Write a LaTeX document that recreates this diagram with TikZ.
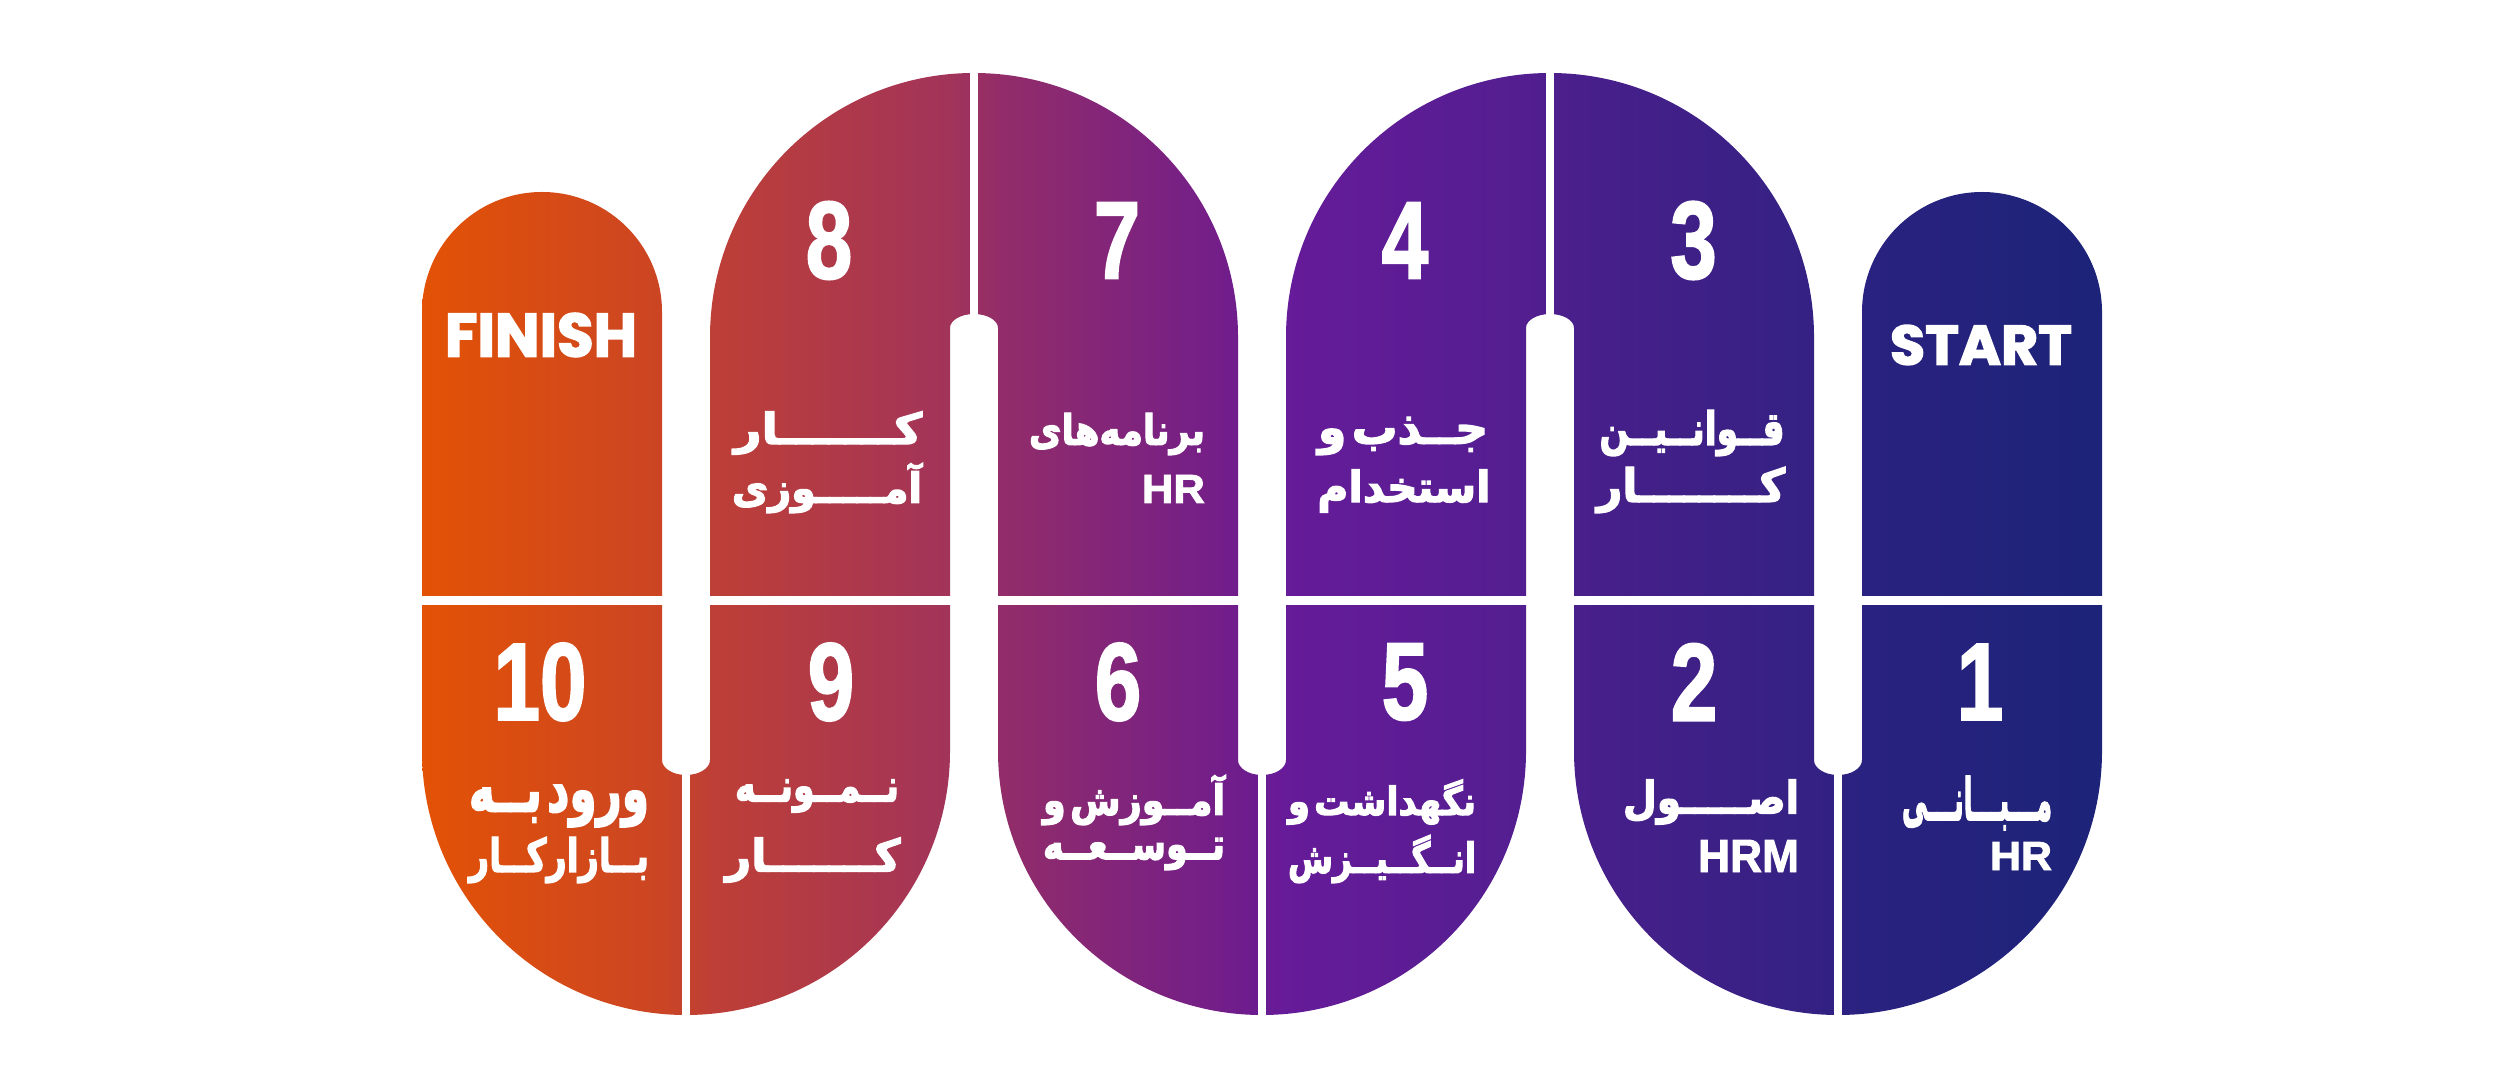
\documentclass[tikz,border=0pt]{standalone}
\usepackage{fontspec}
\usepackage{graphicx}
\TeXXeTstate=1
\newfontfamily\fafont[Script=Arabic,FakeBold=3]{DejaVu Sans}
\newfontfamily\latfont[FakeBold=2]{Liberation Sans}
\newfontfamily\ttlfont[FakeBold=2.5]{Poppins}
\definecolor{g0}{HTML}{E35205}
\definecolor{g1}{HTML}{CB4524}
\definecolor{g2}{HTML}{BE3F36}
\definecolor{g3}{HTML}{A2345A}
\definecolor{g4}{HTML}{932D69}
\definecolor{g5}{HTML}{701D8C}
\definecolor{g6}{HTML}{661B99}
\definecolor{g7}{HTML}{531E90}
\definecolor{g8}{HTML}{491F8B}
\definecolor{g9}{HTML}{342183}
\definecolor{g10}{HTML}{2A2280}
\definecolor{g11}{HTML}{1C2378}
\pgfdeclarehorizontalshading{bandshade}{100bp}{color(0bp)=(g0); color(25bp)=(g0); color(32.14bp)=(g1); color(33.57bp)=(g2); color(40.71bp)=(g3); color(42.14bp)=(g4); color(49.29bp)=(g5); color(50.71bp)=(g6); color(57.86bp)=(g7); color(59.29bp)=(g8); color(66.43bp)=(g9); color(67.86bp)=(g10); color(75bp)=(g11); color(100bp)=(g11)}
\tikzset{txt/.style={inner sep=0pt, outer sep=0pt, text=white, anchor=center},
  cut/.style={fill=white, draw=none}}
\newcommand\fitbox[3]{\resizebox*{#1pt}{#2pt}{#3}}
\newcommand\artxt[1]{{\fafont\bfseries\beginR #1\endR}}
\newcommand\lattxt[1]{{\latfont\bfseries #1}}
\newcommand\numtxt[1]{\scalebox{0.76}[1]{\latfont\bfseries\fontsize{110}{110}\selectfont #1}}
\newcommand\tsp{\hspace{0.12em}}
\begin{document}
\begin{tikzpicture}[x=1pt,y=1pt]
\fill[white] (0,0) rectangle (2500,1080);
\useasboundingbox (0,0) rectangle (2500,1080);
% serpentine band
\shade[shading=bandshade] (1862,768) arc[start angle=180,end angle=0,radius=120]
 -- (2102,329) arc[start angle=0,end angle=-180,radius=264]
 -- (1574,752) arc[start angle=0,end angle=180,x radius=24,y radius=14]
 -- (1526,329) arc[start angle=0,end angle=-180,radius=264]
 -- (998,752) arc[start angle=0,end angle=180,x radius=24,y radius=14]
 -- (950,329) arc[start angle=0,end angle=-180,radius=264]
 -- (422,768) arc[start angle=180,end angle=0,radius=120]
 -- (662,320) arc[start angle=180,end angle=360,x radius=24,y radius=15]
 -- (710,743) arc[start angle=180,end angle=0,radius=264]
 -- (1238,320) arc[start angle=180,end angle=360,x radius=24,y radius=15]
 -- (1286,743) arc[start angle=180,end angle=0,radius=264]
 -- (1814,320) arc[start angle=180,end angle=360,x radius=24,y radius=15]
 -- cycle;
% thin white separators
\path[cut] (1834,55) rectangle (1842,310);
\path[cut] (1258,55) rectangle (1266,310);
\path[cut] (682,55) rectangle (690,310);
\path[cut] (1546,760) rectangle (1554,1015);
\path[cut] (970,760) rectangle (978,1015);
\path[cut] (400,474.8) rectangle (2120,483.8);
% START / FINISH
\node[txt] (start) at (1981,735) {\fitbox{182}{40}{{\ttlfont\bfseries START}}};
\node[txt] (finish) at (541,745) {\fitbox{192}{44}{{\ttlfont\bfseries FINISH}}};
% numbers
\node[txt] (n3) at (1693.5,839.5) {\numtxt{3}};
\node[txt] (n4) at (1405,839.5) {\numtxt{4}};
\node[txt] (n7) at (1117,839.5) {\numtxt{7}};
\node[txt] (n8) at (829,839.5) {\numtxt{8}};
\node[txt] (n1) at (1980,398) {\numtxt{1}};
\node[txt] (n2) at (1694,398) {\numtxt{2}};
\node[txt] (n5) at (1405,398) {\numtxt{5}};
\node[txt] (n6) at (1118,398) {\numtxt{6}};
\node[txt] (n9) at (831,398) {\numtxt{9}};
\node[txt] (n10) at (540,398) {\numtxt{10}};
% top row labels
\node[txt] (t3a) at (1692,647) {\fitbox{185}{46}{\artxt{قــوانــیــن}}};
\node[txt] (t3b) at (1691,590) {\fitbox{188}{46}{\artxt{کــــــــار}}};
\node[txt] (t4a) at (1403,644) {\fitbox{170}{38}{\artxt{جــذب\tsp و}}};
\node[txt] (t4b) at (1404,589) {\fitbox{173}{43}{\artxt{استخدام}}};
\node[txt] (t7a) at (1117,646) {\fitbox{176}{42}{\artxt{برنامه^^^^200cهای}}};
\node[txt] (t7b) at (1173.4,591) {\fitbox{63}{28}{\lattxt{HR}}};
\node[txt] (t8a) at (828,647) {\fitbox{188}{43}{\artxt{کـــــــار}}};
\node[txt] (t8b) at (827,592) {\fitbox{190}{50}{\artxt{آمـــــوزی}}};
% bottom row labels
\node[txt] (t1a) at (1977,277) {\fitbox{150}{54}{\artxt{مـــبـــانـــی}}};
\node[txt] (t1b) at (2021,224) {\fitbox{62}{28}{\lattxt{HR}}};
\node[txt] (t2a) at (1711,278) {\fitbox{176}{45}{\artxt{اصـــــول}}};
\node[txt] (t2b) at (1748.5,224) {\fitbox{101}{32}{\lattxt{HRM}}};
\node[txt] (t5a) at (1382,278) {\fitbox{188}{45}{\artxt{نگهداشت\tsp و}}};
\node[txt] (t5b) at (1382,221) {\fitbox{188}{48}{\artxt{انــگــیــزش}}};
\node[txt] (t6a) at (1134,280) {\fitbox{182}{50}{\artxt{آمــوزش\tsp و}}};
\node[txt] (t6b) at (1134,226) {\fitbox{182}{32}{\artxt{تــوســعــه}}};
\node[txt] (t9a) at (817,284) {\fitbox{164}{33}{\artxt{نــمــونــه}}};
\node[txt] (t9b) at (813,220) {\fitbox{175}{45}{\artxt{کـــــــار}}};
\node[txt] (t10a) at (559,274) {\fitbox{180}{42}{\artxt{ورود\tsp بــه}}};
\node[txt] (t10b) at (559,220) {\fitbox{180}{46}{\artxt{بــازارکــار}}};
\end{tikzpicture}
\end{document}
